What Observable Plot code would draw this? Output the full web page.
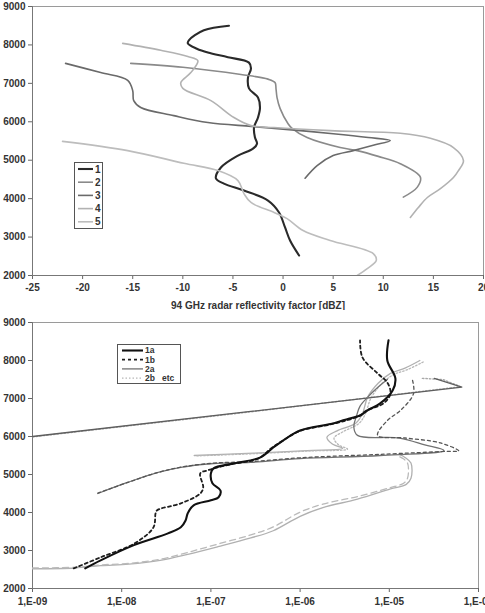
<!DOCTYPE html>
<html>
<head>
<meta charset="utf-8">
<script src="https://cdn.jsdelivr.net/npm/d3@7"></script>
<script src="https://cdn.jsdelivr.net/npm/@observablehq/plot@0.6"></script>
<style>
  body { margin: 0; background: #fff; font-family: "Liberation Sans", Arial, sans-serif; }
  #wrap { position: relative; width: 485px; height: 613px; overflow: hidden; }
  #wrap > svg { position: absolute; left: 0; }
  .legend { position: absolute; background: #fff; border: 1px solid #555; box-sizing: border-box; }
  .legend svg { display: block; }
</style>
</head>
<body>
<div id="wrap"></div>
<script>
// ---------- upper panel: 94 GHz reflectivity profiles [dBZ, height m] ----------
const zTicks = [-25, -20, -15, -10, -5, 0, 5, 10, 15, 20];
const hTicks = [2000, 3000, 4000, 5000, 6000, 7000, 8000, 9000];

const prof1 = [[-5.4,8500],[-7.9,8380],[-9.4,8120],[-9.5,8040],[-8.6,7900],[-7.5,7800],[-5.5,7680],[-3.4,7540],[-3.2,7390],[-3.5,7150],[-3.4,6870],[-2.5,6630],[-2.3,6370],[-2.5,6110],[-2.9,5850],[-2.8,5590],[-2.6,5430],[-3.0,5300],[-4.5,5120],[-6.2,4810],[-6.7,4530],[-5.9,4390],[-3.9,4210],[-1.5,3950],[-0.4,3640],[0.2,3250],[0.7,2910],[1.6,2520]];
const prof2 = [[-15.2,7520],[-10,7420],[-4.2,7230],[-1.5,7110],[-0.8,7020],[-0.7,6850],[-0.6,6630],[-0.3,6350],[0.5,5950],[0.9,5830],[2.4,5590],[5.7,5330],[7.4,5250],[9.5,5100],[11.7,4910],[13.7,4560],[13.4,4300],[12.0,4040]];
const prof3 = [[-21.7,7520],[-18.2,7280],[-15.5,7080],[-15.0,6810],[-14.9,6550],[-14.2,6370],[-10.9,6160],[-7.5,5980],[-3.2,5880],[0,5810],[5,5690],[8.5,5590],[10.7,5510],[9,5390],[7.0,5250],[5,5120],[3.4,4860],[2.2,4530]];
const prof4 = [[-16.0,8040],[-12.2,7860],[-9.5,7700],[-8.5,7590],[-9.2,7280],[-10.2,7020],[-10.0,6870],[-7.2,6550],[-4.9,6110],[-3.2,5900],[-0.9,5850],[4.7,5770],[11.7,5700],[14.7,5570],[17.0,5330],[18.0,4990],[17.5,4730],[17.0,4550],[15.7,4260],[14.4,4030],[13.5,3770],[12.7,3510]];
const prof5 = [[-22.0,5490],[-15.5,5250],[-9.9,4920],[-6.5,4730],[-4.5,4470],[-3.9,4130],[-3.2,3900],[-0.9,3640],[0.4,3480],[2.0,3170],[4.7,2910],[9.0,2570],[9.3,2390],[8.4,2180],[7.4,2000]];

const topSeries = [
  {name: "1", data: prof1, stroke: "#2a2a2a", width: 2.1},
  {name: "2", data: prof2, stroke: "#8a8a8a", width: 1.6},
  {name: "3", data: prof3, stroke: "#6a6a6a", width: 1.6},
  {name: "4", data: prof4, stroke: "#b2b2b2", width: 1.6},
  {name: "5", data: prof5, stroke: "#bdbdbd", width: 1.6}
];

// ---------- lower panel: retrieved profiles [value, height m] ----------
const vTicks = [1e-9, 1e-8, 1e-7, 1e-6, 1e-5, 1e-4];

const r1a = [[3.9e-9,2530],[5.8e-9,2740],[1.35e-8,3135],[3.3e-8,3450],[4.6e-8,3610],[5.2e-8,3790],[5.5e-8,3980],[6.4e-8,4190],[1.0e-7,4320],[1.22e-7,4400],[1.28e-7,4580],[1.04e-7,4770],[1.0e-7,5030],[1.07e-7,5160],[1.79e-7,5290],[3.6e-7,5450],[5.0e-7,5710],[6.5e-7,5900],[1.0e-6,6160],[2.4e-6,6350],[3.5e-6,6470],[4.8e-6,6560],[5.7e-6,6690],[7.9e-6,6870],[1.09e-5,7210],[1.17e-5,7530],[9.5e-6,8000],[9.8e-6,8530]];
const r1b = [[2.9e-9,2530],[5.8e-9,2820],[1.4e-8,3190],[2.27e-8,3610],[2.4e-8,3980],[2.5e-8,4060],[4.6e-8,4240],[7.6e-8,4500],[8.2e-8,4660],[7.6e-8,5030],[9.2e-8,5110],[1.6e-7,5260],[3.4e-7,5420],[4.8e-7,5700],[6.3e-7,5880],[9.8e-7,6140],[2.3e-6,6330],[4.6e-6,6540],[5.5e-6,6680],[8.6e-6,6870],[1.03e-5,7130],[9.5e-6,7420],[7.4e-6,7660],[5.0e-6,8080],[4.7e-6,8530]];
const r2a = [[3.2e-5,7530],[6.5e-5,7300],[2.8e-7,6660],[1e-9,6000]];
const r2b = [[2.35e-5,7530],[4.0e-5,7500],[6.3e-5,7310],[2.8e-7,6650],[1e-9,5990]];
const r3a = [[5.4e-9,4500],[1.16e-8,4790],[2.5e-8,5050],[4.6e-8,5190],[1.07e-7,5290],[2.8e-7,5320],[1e-6,5420],[7.9e-6,5500],[4.1e-5,5630],[2.5e-5,5780],[1.3e-5,5960],[4.4e-6,6030],[4.0e-6,6250],[4.3e-6,6550],[4.7e-6,6800],[5.7e-6,7030],[7.5e-6,7300],[9.5e-6,7500]];
const r3b = [[5.4e-9,4510],[1.2e-8,4800],[2.6e-8,5060],[4.8e-8,5200],[1.1e-7,5300],[2.8e-7,5340],[1e-6,5440],[7.9e-6,5530],[4.5e-5,5610],[6.0e-5,5620],[3.75e-5,5830],[1.5e-5,5960],[7.4e-6,6030],[9.5e-6,6420],[1.34e-5,6690],[1.87e-5,7130],[1.8e-5,7530]];
const r4a = [[2.2e-5,8000],[1.5e-5,7800],[1.03e-5,7660],[7.5e-6,7400],[5.7e-6,7030],[5.0e-6,6600],[4.2e-6,6350],[2.6e-6,6150],[2.0e-6,5980],[2.3e-6,5800],[3.0e-6,5690],[1.2e-6,5630],[3e-7,5560],[6.5e-8,5500]];
const r4b = [[2.4e-5,7960],[1.6e-5,7760],[1.1e-5,7620],[8e-6,7360],[6.2e-6,7000],[5.4e-6,6600],[4.6e-6,6350],[3.0e-6,6120],[2.4e-6,5960],[2.7e-6,5780],[3.4e-6,5670],[1.3e-6,5620],[3.2e-7,5550],[7e-8,5490]];
const r5a = [[1e-9,2520],[3e-9,2540],[5.8e-9,2600],[1.2e-8,2640],[2.7e-8,2740],[5.5e-8,2900],[1.2e-7,3100],[2.8e-7,3330],[5e-7,3520],[1e-6,3900],[1.8e-6,4130],[4.4e-6,4350],[1.03e-5,4620],[1.55e-5,4740],[1.75e-5,4900],[1.75e-5,5300],[1.5e-5,5450],[1.3e-5,5530]];
const r5b = [[1e-9,2540],[3e-9,2560],[5.8e-9,2620],[1.2e-8,2660],[2.7e-8,2770],[5.5e-8,2950],[1.2e-7,3170],[2.8e-7,3410],[5e-7,3620],[1e-6,4010],[1.8e-6,4220],[4.4e-6,4420],[1e-5,4650],[1.45e-5,4770],[1.6e-5,4900],[1.6e-5,5300],[1.4e-5,5430],[1.2e-5,5500]];

const lowSeries = [
  {name: "5a", data: r5a, stroke: "#b0b0b0", width: 1.3, dash: null, curve: "catmull-rom"},
  {name: "5b", data: r5b, stroke: "#bababa", width: 1.3, dash: "6,4", curve: "catmull-rom"},
  {name: "4a", data: r4a, stroke: "#b0b0b0", width: 1.3, dash: null, curve: "catmull-rom"},
  {name: "4b", data: r4b, stroke: "#b8b8b8", width: 1.3, dash: "1.5,2", curve: "catmull-rom"},
  {name: "3a", data: r3a, stroke: "#727272", width: 1.3, dash: null, curve: "catmull-rom"},
  {name: "3b", data: r3b, stroke: "#555555", width: 1.3, dash: "3,3", curve: "catmull-rom"},
  {name: "2b", data: r2b, stroke: "#a8a8a8", width: 1.4, dash: "1.5,2", curve: "linear"},
  {name: "2a", data: r2a, stroke: "#5e5e5e", width: 1.3, dash: null, curve: "linear"},
  {name: "1b", data: r1b, stroke: "#1e1e1e", width: 1.8, dash: "3,3", curve: "catmull-rom"},
  {name: "1a", data: r1a, stroke: "#111111", width: 2.1, dash: null, curve: "catmull-rom"}
];

const legendTop = ["1", "2", "3", "4", "5"];
const legendLow = ["1a", "1b", "2a", "2b   etc"];

const axisStyle = {fontFamily: "'Liberation Sans', Arial, sans-serif", fontSize: "10px", fontWeight: "bold", color: "#333", background: "#fff"};
const wrap = document.getElementById("wrap");

const toRows = (s) => s.data.map(([x, h]) => ({x, h, name: s.name}));

const topChart = Plot.plot({
  width: 485, height: 310,
  marginTop: 6, marginRight: 2, marginBottom: 35, marginLeft: 32,
  style: axisStyle,
  x: {domain: [-25, 20]},
  y: {domain: [2000, 9000]},
  marks: [
    Plot.frame({stroke: "#9a9a9a"}),
    Plot.axisY({ticks: hTicks, tickFormat: d => String(d), tickSize: 4, tickPadding: 3, label: null, stroke: "#666"}),
    Plot.axisX({ticks: zTicks, tickFormat: d => String(d), tickSize: 4, tickPadding: 4, stroke: "#666",
      label: "94 GHz radar reflectivity factor [dBZ]", labelAnchor: "center", labelArrow: "none", labelOffset: 33}),
    Plot.ruleX([-25], {stroke: "#777"}),
    Plot.ruleY([2000], {stroke: "#777"}),
    ...topSeries.map(s => Plot.line(toRows(s), {x: "x", y: "h", stroke: s.stroke, strokeWidth: s.width, curve: "catmull-rom", clip: true}))
  ]
});
topChart.style.top = "0px";
wrap.appendChild(topChart);

const pow = d => Math.round(Math.log10(d));
const lowChart = Plot.plot({
  width: 485, height: 303,
  marginTop: 12, marginRight: 7, marginBottom: 25, marginLeft: 32,
  style: axisStyle,
  x: {type: "log", domain: [1e-9, 1e-4]},
  y: {domain: [2000, 9000]},
  marks: [
    Plot.frame({stroke: "#9a9a9a"}),
    Plot.axisY({ticks: hTicks, tickFormat: d => String(d), tickSize: 4, tickPadding: 3, label: null, stroke: "#666"}),
    Plot.axisX({ticks: vTicks, tickFormat: d => "1,E-" + String(-pow(d)).padStart(2, "0"), tickSize: 4, tickPadding: 5, label: null, stroke: "#666"}),
    Plot.ruleX([1e-9], {stroke: "#777"}),
    Plot.ruleY([2000], {stroke: "#777"}),
    ...lowSeries.map(s => Plot.line(toRows(s), {x: "x", y: "h", stroke: s.stroke, strokeWidth: s.width, strokeDasharray: s.dash, curve: s.curve, clip: true}))
  ]
});
lowChart.style.top = "310px";
wrap.appendChild(lowChart);

// ---------- legends ----------
function legend(items, styles, box, row, fontSize) {
  const div = document.createElement("div");
  div.className = "legend";
  Object.assign(div.style, {left: box.x + "px", top: box.y + "px", width: box.w + "px", height: box.h + "px"});
  const svg = d3.create("svg").attr("width", box.w - 2).attr("height", box.h - 2)
    .style("font-family", "'Liberation Sans', Arial, sans-serif").style("font-size", fontSize + "px").style("font-weight", "bold");
  items.forEach((label, i) => {
    const y = row.y0 + i * row.dy;
    const st = styles[i];
    svg.append("line").attr("x1", row.x1).attr("x2", row.x2).attr("y1", y).attr("y2", y)
      .attr("stroke", st.stroke).attr("stroke-width", st.width).attr("stroke-dasharray", st.dash || null);
    svg.append("text").attr("x", row.x2 + 2).attr("y", y).attr("dy", "0.35em").attr("fill", "#333")
      .style("white-space", "pre").text(label);
  });
  div.appendChild(svg.node());
  wrap.appendChild(div);
}

legend(legendTop, topSeries.map(s => ({stroke: s.stroke, width: s.width})),
  {x: 74, y: 162, w: 29, h: 67}, {x1: 3, x2: 18, y0: 6, dy: 13.2}, 10);

const byName = Object.fromEntries(lowSeries.map(s => [s.name, s]));
legend(legendLow, ["1a", "1b", "3a", "4b"].map(n => ({stroke: byName[n].stroke, width: byName[n].width, dash: byName[n].dash})),
  {x: 117, y: 344, w: 64, h: 40}, {x1: 4, x2: 25, y0: 5.5, dy: 9.2}, 8.5);
</script>
</body>
</html>
